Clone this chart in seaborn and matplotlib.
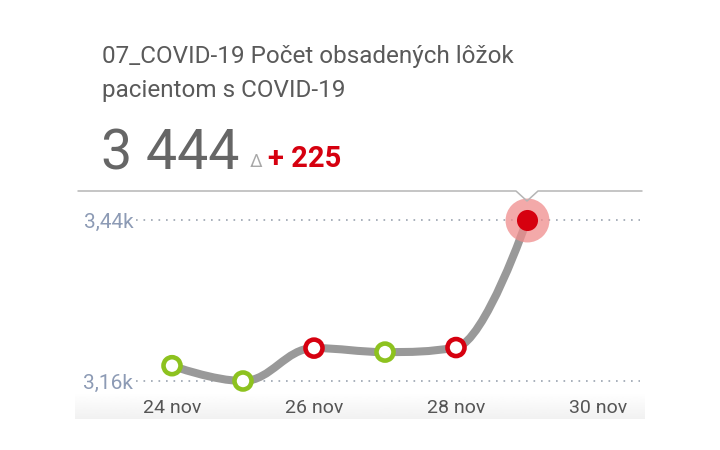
import numpy as np
import pandas as pd
import seaborn as sns
import matplotlib.pyplot as plt
import matplotlib.dates as mdates
from matplotlib.path import Path
from matplotlib.patches import PathPatch
from matplotlib.lines import Line2D

# data
dates = pd.to_datetime(["2020-11-24", "2020-11-25", "2020-11-26",
                        "2020-11-27", "2020-11-28", "2020-11-29"])
beds = [3187, 3160, 3218, 3211, 3219, 3444]
tick_dates = pd.to_datetime(["2020-11-24", "2020-11-26", "2020-11-28", "2020-11-30"])
tick_labels = ["24 nov", "26 nov", "28 nov", "30 nov"]
y_ticks = [3160, 3444]
y_labels = ["3,16k", "3,44k"]
title = "07_COVID-19 Počet obsadených lôžok\npacientom s COVID-19"
last_value = "3 444"
delta = "+ 225"

RED = "#d6000f"
GREEN = "#8dc21f"
GREY_LINE = "#999999"

sns.set_style("white")
plt.rcParams['font.family'] = ['Roboto', 'DejaVu Sans']

W, H = 720, 450
fig = plt.figure(figsize=(7.2, 4.5), dpi=100)

# soft grey band under the x labels
band = fig.add_axes([75 / W, (H - 419) / H, 570 / W, 26 / H], zorder=0)
band.imshow(np.linspace(1.0, 0.945, 50).reshape(-1, 1), cmap="gray",
            vmin=0, vmax=1, aspect="auto", extent=[0, 1, 0, 1])
band.axis("off")

ax = fig.add_axes([136 / W, (H - 392) / H, 504 / W, 202 / H], zorder=1)
ax.set_facecolor("none")

x = mdates.date2num(dates)
y = np.array(beds, dtype=float)

# highcharts-style spline through the points
def spline_path(xs, ys, smoothing=1.5):
    denom = smoothing + 1
    n = len(xs)
    lc = [None] * n
    rc = [None] * n
    for i in range(n):
        if i == 0 or i == n - 1:
            lc[i] = (xs[i], ys[i])
            rc[i] = (xs[i], ys[i])
            continue
        lx = (smoothing * xs[i] + xs[i - 1]) / denom
        ly = (smoothing * ys[i] + ys[i - 1]) / denom
        rx = (smoothing * xs[i] + xs[i + 1]) / denom
        ry = (smoothing * ys[i] + ys[i + 1]) / denom
        corr = ((ry - ly) * (rx - xs[i])) / (rx - lx) + ys[i] - ry
        ly += corr
        ry += corr
        if ly > ys[i - 1] and ly > ys[i]:
            ly = max(ys[i - 1], ys[i]); ry = 2 * ys[i] - ly
        elif ly < ys[i - 1] and ly < ys[i]:
            ly = min(ys[i - 1], ys[i]); ry = 2 * ys[i] - ly
        if ry > ys[i + 1] and ry > ys[i]:
            ry = max(ys[i + 1], ys[i]); ly = 2 * ys[i] - ry
        elif ry < ys[i + 1] and ry < ys[i]:
            ry = min(ys[i + 1], ys[i]); ly = 2 * ys[i] - ry
        lc[i] = (lx, ly)
        rc[i] = (rx, ry)
    verts = [(xs[0], ys[0])]
    codes = [Path.MOVETO]
    for i in range(1, n):
        verts += [rc[i - 1], lc[i], (xs[i], ys[i])]
        codes += [Path.CURVE4] * 3
    return Path(verts, codes)

ax.add_patch(PathPatch(spline_path(x, y), facecolor="none", edgecolor=GREY_LINE,
                       lw=5.8, capstyle="round", joinstyle="round", zorder=2))

# colour by day-on-day change
cols = [GREEN]
for i in range(1, len(beds)):
    cols.append(RED if beds[i] > beds[i - 1] else GREEN)

sns.scatterplot(x=x[:-1], y=y[:-1], ax=ax, color="white", edgecolor=cols[:-1],
                s=150, linewidth=3.3, zorder=4, legend=False)
# highlighted last point
ax.scatter(x[-1:], y[-1:], s=1000, color="#f08c8c", alpha=0.75, linewidth=0, zorder=3)
ax.scatter(x[-1:], y[-1:], s=230, color=RED, linewidth=0, zorder=4)

ax.set_xlim(mdates.date2num(pd.Timestamp("2020-11-24")) - 36 / 71,
            mdates.date2num(pd.Timestamp("2020-11-24")) + 468 / 71)
ppu = 161 / (3444 - 3160)
ax.set_ylim(3160 - 11 / ppu, 3444 + 30 / ppu)

ax.set_xticks(mdates.date2num(tick_dates))
ax.set_xticklabels(tick_labels, fontsize=14, color="#555555")
ax.set_yticks(y_ticks)
ax.set_yticklabels(y_labels, fontsize=15, color="#8d9bb5")
ax.tick_params(axis="x", length=0, pad=5)
ax.tick_params(axis="y", length=0, pad=2)
ax.grid(axis="y", color="#9aa3b0", linestyle=(0, (1, 3.5)), linewidth=1.2)
ax.grid(axis="x", visible=False)
ax.set_xlabel("")
ax.set_ylabel("")
for s in ax.spines.values():
    s.set_visible(False)

# top rule with a pointer above the last point
fig.canvas.draw()
px = ax.transData.transform((x[-1], y[-1]))[0]
ty = (H - 191) / H
line_x = [78, px - 11, px, px + 11, 642]
line_y = [ty, ty, (H - 201) / H, ty, ty]
fig.add_artist(Line2D([v / W for v in line_x], line_y, color="#b5b5b5", lw=1.1))

# header texts
fig.text(102 / W, 1 - 63 / H, title.split("\n")[0], fontsize=17.5, color="#5a5a5a",
         va="baseline")
fig.text(102 / W, 1 - 97 / H, title.split("\n")[1], fontsize=17.5, color="#5a5a5a",
         va="baseline")
fig.text(101 / W, 1 - 170 / H, last_value, fontsize=40, color="#666666", va="baseline")
fig.text(250 / W, 1 - 167 / H, "Δ", fontsize=13, color="#a8a8a8", va="baseline")
fig.text(268 / W, 1 - 167 / H, delta, fontsize=21, color=RED, fontweight="bold",
         va="baseline")

plt.savefig("out.png", dpi=100)
